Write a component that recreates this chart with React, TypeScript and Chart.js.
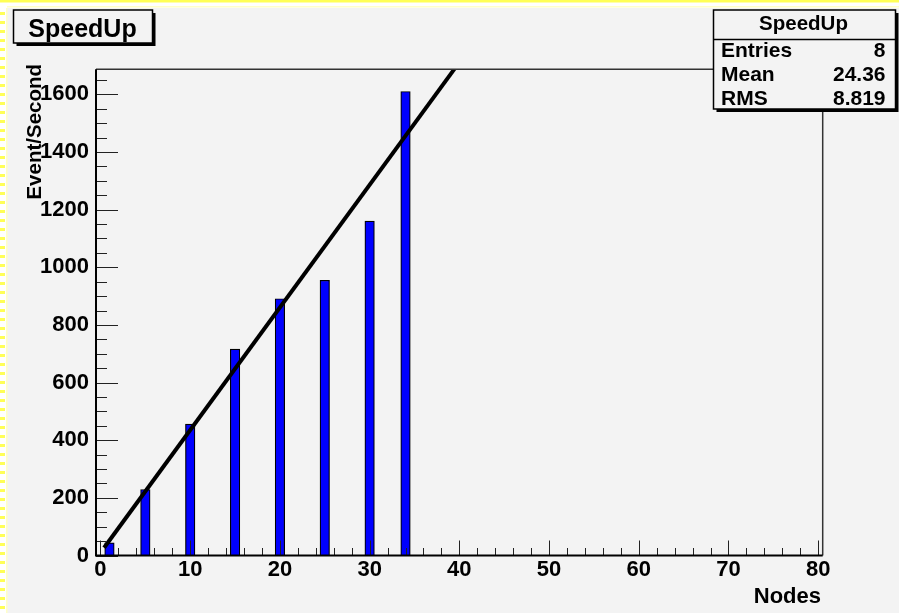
import React, { useEffect, useRef } from "react";
import { Chart, registerables } from "chart.js";

Chart.register(...registerables);

// ---- data ----
const nodes = [1, 5, 10, 15, 20, 25, 30, 34];
const eventsPerSecond = [44, 229, 456, 716, 891, 955, 1160, 1610];
const fitLine = [
  { x: 0.4, y: 27 },
  { x: 39.5, y: 1690 },
];
const xTicks = [0, 10, 20, 30, 40, 50, 60, 70, 80];
const yTicks = [0, 200, 400, 600, 800, 1000, 1200, 1400, 1600];
const statsRows = [
  ["Entries", "8"],
  ["Mean", "24.36"],
  ["RMS", "8.819"],
];
const histTitle = "SpeedUp";
const xTitle = "Nodes";
const yTitle = "Event/Second";

const FONT = '"Liberation Sans", Arial, Helvetica, sans-serif';

const decorPlugin = {
  id: "rootDecor",
  beforeDraw(chart: any) {
    const ctx = chart.ctx;
    const W = chart.width;
    const H = chart.height;
    ctx.save();
    ctx.fillStyle = "#ffffff";
    ctx.fillRect(0, 0, W, H);
    ctx.fillStyle = "#f3f3f3";
    ctx.fillRect(7, 8, W - 7, H - 8);
    ctx.fillStyle = "#ffff55";
    ctx.fillRect(0, 0, W, 2.5);
    ctx.fillStyle = "#ffffc8";
    ctx.fillRect(7, 6, W - 7, 1.5);
    ctx.fillStyle = "#ffff55";
    for (let y = 12; y < H; y += 9) {
      ctx.fillRect(0, y, 5, 3);
    }
    ctx.fillStyle = "#ffffc8";
    ctx.fillRect(6, 8, 1.5, H - 8);
    ctx.restore();
  },
  afterDraw(chart: any) {
    const ctx = chart.ctx;
    const area = chart.chartArea;
    const xs = chart.scales.x;
    const ys = chart.scales.y;
    ctx.save();

    // ticks
    ctx.strokeStyle = "#222";
    ctx.lineWidth = 1;
    ctx.beginPath();
    for (let v = 0; v <= 80; v += 2) {
      const px = Math.round(xs.getPixelForValue(v)) + 0.5;
      const len = xTicks.includes(v) ? 15 : 7.5;
      ctx.moveTo(px, area.bottom);
      ctx.lineTo(px, area.bottom - len);
    }
    for (let v = 0; v <= 1650; v += 50) {
      const py = Math.round(ys.getPixelForValue(v)) + 0.5;
      const len = yTicks.includes(v) ? 22 : 11;
      ctx.moveTo(area.left, py);
      ctx.lineTo(area.left + len, py);
    }
    ctx.stroke();

    // frame
    ctx.strokeStyle = "#333";
    ctx.lineWidth = 1.5;
    ctx.beginPath();
    ctx.moveTo(area.left, area.top);
    ctx.lineTo(area.right, area.top);
    ctx.lineTo(area.right, area.bottom);
    ctx.stroke();
    ctx.strokeStyle = "#000";
    ctx.lineWidth = 2;
    ctx.beginPath();
    ctx.moveTo(area.left, area.top);
    ctx.lineTo(area.left, area.bottom);
    ctx.lineTo(area.right, area.bottom);
    ctx.stroke();

    // axis titles
    ctx.fillStyle = "#000";
    ctx.font = `bold 22px ${FONT}`;
    ctx.textAlign = "right";
    ctx.textBaseline = "alphabetic";
    ctx.fillText(xTitle, 821, 603);

    ctx.save();
    ctx.translate(40.5, 64);
    ctx.rotate(-Math.PI / 2);
    ctx.font = `bold 20.5px ${FONT}`;
    ctx.textAlign = "right";
    ctx.fillText(yTitle, 0, 0);
    ctx.restore();

    // boxes with shadow
    const box = (x: number, y: number, w: number, h: number) => {
      ctx.fillStyle = "#000";
      ctx.fillRect(x + 3, y + 3, w, h);
      ctx.fillStyle = "#f3f3f3";
      ctx.fillRect(x, y, w, h);
      ctx.strokeStyle = "#000";
      ctx.lineWidth = 1.5;
      ctx.strokeRect(x, y, w, h);
    };

    // title box
    box(13.5, 10, 139, 33);
    ctx.fillStyle = "#000";
    ctx.font = `bold 25px ${FONT}`;
    ctx.textAlign = "center";
    ctx.fillText(histTitle, 82.5, 36.5);

    // stats box
    box(713.5, 10, 182, 99);
    ctx.beginPath();
    ctx.moveTo(713.5, 39.5);
    ctx.lineTo(895.5, 39.5);
    ctx.stroke();
    ctx.fillStyle = "#000";
    ctx.font = `bold 20.5px ${FONT}`;
    ctx.textAlign = "center";
    ctx.fillText(histTitle, 803.5, 30);
    ctx.font = `bold 21px ${FONT}`;
    const baselines = [56.5, 81, 105];
    statsRows.forEach((r, i) => {
      ctx.textAlign = "left";
      ctx.fillText(r[0], 721, baselines[i]);
      ctx.textAlign = "right";
      ctx.fillText(r[1], 885.5, baselines[i]);
    });

    ctx.restore();
  },
};

export default function App() {
  const ref = useRef<HTMLCanvasElement | null>(null);
  useEffect(() => {
    if (!ref.current) return;
    const chart = new Chart(ref.current, {
      type: "bar",
      data: {
        datasets: [
          {
            type: "line",
            data: fitLine,
            borderColor: "#000",
            borderWidth: 4,
            pointRadius: 0,
            order: 0,
          } as any,
          {
            type: "bar",
            data: nodes.map((n, i) => ({ x: n, y: eventsPerSecond[i] })),
            backgroundColor: "#0000ff",
            borderColor: "#000",
            borderWidth: 1.2,
            barThickness: 9.5,
            order: 1,
          } as any,
        ],
      },
      options: {
        animation: false,
        responsive: false,
        devicePixelRatio: 1,
        layout: { padding: { top: 69.3, right: 76.3, left: 0, bottom: 0 } },
        plugins: {
          legend: { display: false },
          tooltip: { enabled: false },
          title: { display: false },
        },
        scales: {
          x: {
            type: "linear",
            offset: false,
            min: -0.5,
            max: 80.5,
            grid: { display: false, drawTicks: false, offset: false },
            border: { display: false },
            ticks: {
              color: "#000",
              font: { family: FONT, size: 22, weight: "bold", lineHeight: 1 },
              padding: 3.5,
              maxRotation: 0,
              autoSkip: false,
              callback: (v: any) => String(v),
            },
            afterBuildTicks: (s: any) => {
              s.ticks = xTicks.map((v) => ({ value: v }));
            },
            afterFit: (s: any) => {
              s.height = 57.5;
            },
          },
          y: {
            type: "linear",
            min: 0,
            max: 1687,
            grid: { display: false, drawTicks: false },
            border: { display: false },
            ticks: {
              color: "#000",
              font: { family: FONT, size: 22, weight: "bold", lineHeight: 1 },
              padding: 7,
              autoSkip: false,
              callback: (v: any) => String(v),
            },
            afterBuildTicks: (s: any) => {
              s.ticks = yTicks.map((v) => ({ value: v }));
            },
            afterFit: (s: any) => {
              s.width = 96;
            },
          },
        },
      } as any,
      plugins: [decorPlugin],
    });
    return () => chart.destroy();
  }, []);
  return (
    <div style={{ position: "fixed", left: 0, top: 0, width: 899, height: 613 }}>
      <canvas ref={ref} width={899} height={613} style={{ width: 899, height: 613, display: "block" }} />
    </div>
  );
}
